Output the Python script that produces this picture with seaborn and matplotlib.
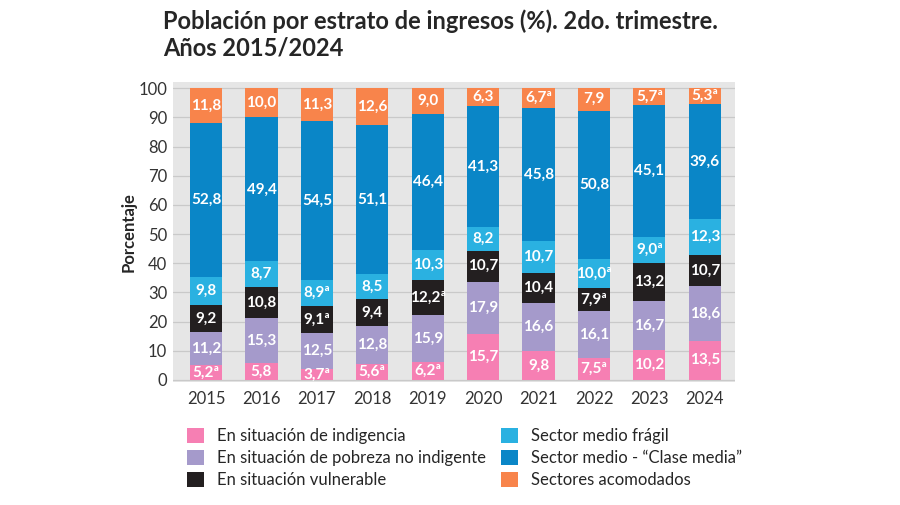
import numpy as np
import pandas as pd
import matplotlib.pyplot as plt
import seaborn as sns
from matplotlib.patches import Patch

years = ['2015', '2016', '2017', '2018', '2019', '2020', '2021', '2022', '2023', '2024']
categories = ['En situación de indigencia',
              'En situación de pobreza no indigente',
              'En situación vulnerable',
              'Sector medio frágil',
              'Sector medio - \u201cClase media\u201d',
              'Sectores acomodados']
indigencia = [5.2, 5.8, 3.7, 5.6, 6.2, 15.7, 9.8, 7.5, 10.2, 13.5]
pobreza = [11.2, 15.3, 12.5, 12.8, 15.9, 17.9, 16.6, 16.1, 16.7, 18.6]
vulnerable = [9.2, 10.8, 9.1, 9.4, 12.2, 10.7, 10.4, 7.9, 13.2, 10.7]
fragil = [9.8, 8.7, 8.9, 8.5, 10.3, 8.2, 10.7, 10.0, 9.0, 12.3]
clase_media = [52.8, 49.4, 54.5, 51.1, 46.4, 41.3, 45.8, 50.8, 45.1, 39.6]
acomodados = [11.8, 10.0, 11.3, 12.6, 9.0, 6.3, 6.7, 7.9, 5.7, 5.3]
# values marked with superscript "a" in the source
flag_a = {
    'indigencia': ['2015', '2017', '2018', '2019', '2022'],
    'vulnerable': ['2017', '2019', '2022'],
    'fragil': ['2017', '2022', '2023'],
    'acomodados': ['2021', '2023', '2024'],
}
colors = ['#f67fb3', '#a59acb', '#231f20', '#2ab1e1', '#0a86c7', '#f8844b']

series = [indigencia, pobreza, vulnerable, fragil, clase_media, acomodados]
keys = ['indigencia', 'pobreza', 'vulnerable', 'fragil', 'clase_media', 'acomodados']
df = pd.DataFrame(dict(zip(keys, series)), index=years)
cum = df.cumsum(axis=1)

sns.set_style('white')
plt.rcParams['font.family'] = ['Lato', 'DejaVu Sans']

fig = plt.figure(figsize=(9, 5.05), dpi=100)
ax = fig.add_axes([0.192, 0.243, 0.625, 0.594])
ax.set_facecolor('#e6e6e6')

# stacked bars: draw cumulative totals from the top down
for k, c in reversed(list(zip(keys, colors))):
    sns.barplot(x=years, y=cum[k].values, color=c, width=0.58,
                saturation=1, linewidth=0, edgecolor='none', ax=ax, zorder=3)

for i, yr in enumerate(years):
    bottom = 0
    for k in keys:
        v = df.loc[yr, k]
        txt = f'{v:.1f}'.replace('.', ',')
        if yr in flag_a.get(k, []):
            txt += 'ª'
        ax.text(i, bottom + v / 2, txt, ha='center', va='center',
                color='white', fontsize=11, fontweight='bold', zorder=5)
        bottom += v

ax.set_ylim(-0.8, 102)
ax.set_xlim(-0.6, 9.55)
ax.set_yticks(np.arange(0, 101, 10))
ax.yaxis.grid(True, color='#c9c9c9', linewidth=0.9, zorder=0)
ax.set_axisbelow(True)
for s in ax.spines.values():
    s.set_visible(False)
ax.tick_params(axis='both', length=0, labelsize=12, colors='#333333', pad=4)
ax.tick_params(axis='x', pad=6)
ax.set_ylabel('Porcentaje', fontsize=12, fontweight='bold', labelpad=1)

fig.text(0.181, 0.943, 'Población por estrato de ingresos (%). 2do. trimestre.',
         fontsize=17, fontweight='bold', va='baseline')
fig.text(0.181, 0.890, 'Años 2015/2024', fontsize=17, fontweight='bold', va='baseline')

handles = [Patch(facecolor=c, edgecolor='none') for c in colors]
fig.legend(handles, categories, ncol=2, loc='upper left',
           bbox_to_anchor=(0.208, 0.152), frameon=False, fontsize=12,
           handlelength=1.0, handleheight=1.0, handletextpad=0.8,
           columnspacing=0.9, labelspacing=0.35, borderaxespad=0,
           borderpad=0)

fig.savefig('out.png', dpi=100)
